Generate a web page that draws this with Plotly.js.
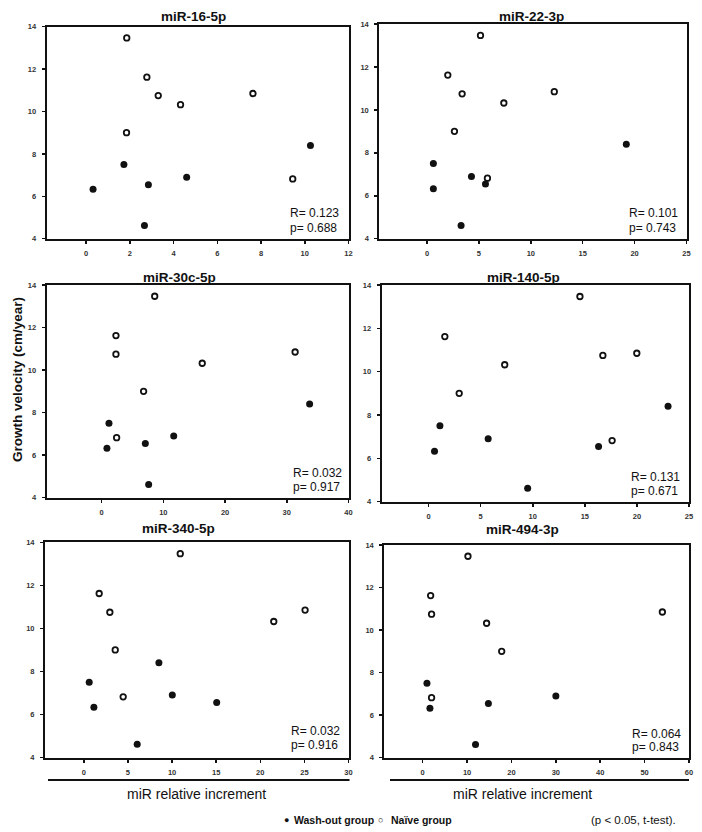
<!DOCTYPE html>
<html><head><meta charset="utf-8">
<script src="https://cdn.plot.ly/plotly-3.0.1.min.js"></script>
<style>html,body{margin:0;padding:0;background:#fff}#chart{width:702px;height:832px}</style>
</head><body><div id="chart"></div>
<script>
// ---------- DATA ----------
const panelTitles = ['miR-16-5p', 'miR-22-3p', 'miR-30c-5p', 'miR-140-5p', 'miR-340-5p', 'miR-494-3p'];
const rValues = ['0.123', '0.101', '0.032', '0.131', '0.032', '0.064'];
const pValues = ['0.688', '0.743', '0.917', '0.671', '0.916', '0.843'];

// Growth velocity (cm/year), same patients in every panel
const naiveGV = [13.47, 11.62, 10.75, 10.32, 10.85, 9.0, 6.82];
const washGV  = [7.5, 6.33, 6.9, 6.55, 4.62, 8.4];

// miR relative increment per panel
const naive16  = [1.86, 2.78, 3.30, 4.32, 7.63, 1.85, 9.45];
const wash16   = [1.73, 0.32, 4.6, 2.85, 2.67, 10.26];
const naive22  = [5.15, 2.0, 3.38, 7.4, 12.26, 2.64, 5.82];
const wash22   = [0.61, 0.61, 4.28, 5.63, 3.28, 19.2];
const naive30c = [8.6, 2.32, 2.32, 16.3, 31.35, 6.8, 2.43];
const wash30c  = [1.19, 0.86, 11.68, 7.08, 7.62, 33.7];
const naive140 = [14.53, 1.56, 16.73, 7.31, 19.99, 2.94, 17.62];
const wash140  = [1.09, 0.57, 5.72, 16.32, 9.51, 22.99];
const naive340 = [10.93, 1.74, 2.95, 21.53, 25.08, 3.56, 4.46];
const wash340  = [0.61, 1.14, 10.03, 15.06, 6.05, 8.51];
const naive494 = [10.2, 1.79, 2.0, 14.4, 54.0, 17.8, 2.0];
const wash494  = [0.96, 1.63, 30.0, 14.8, 11.9, null];

const yRange = [4, 14];
const xRanges = [[-1.8, 12], [-4.6, 25], [-8.9, 40], [-4.5, 25], [-4.4, 30], [-8.65, 60]];
const xDticks = [2, 5, 10, 5, 5, 10];

// ---------- LAYOUT GEOMETRY (pixels) ----------
const W = 702, H = 832;
const fx = p => p / W, fy = p => 1 - p / H;
const geom = [
  {l: 46.7, r: 348.5, t: 26.7, b: 238.7},
  {l: 379.3, r: 686.5, t: 24, b: 238.7},
  {l: 46.7, r: 348.5, t: 285, b: 497.7},
  {l: 381.7, r: 689, t: 285, b: 501.7},
  {l: 45, r: 348.5, t: 542.3, b: 757.5},
  {l: 384.3, r: 689, t: 545, b: 757.7}
];
const titlePos = [[193, 16.5], [531, 16], [180, 277], [523.5, 277], [178, 528.5], [522, 529]];
const statPos = [[288, 213, 228], [627, 213, 228], [290.7, 473.3, 486.7], [629, 477.3, 491], [289.3, 731, 745], [630.3, 734, 746.7]];

const naiveSets = [naive16, naive22, naive30c, naive140, naive340, naive494];
const washSets = [wash16, wash22, wash30c, wash140, wash340, wash494];

const FONT = 'Liberation Sans, Arial, sans-serif';
const traces = [];
const layout = {
  width: W, height: H, margin: {l: 0, r: 0, t: 0, b: 0},
  paper_bgcolor: '#fff', plot_bgcolor: '#fff', showlegend: false,
  font: {family: FONT, color: '#111'},
  annotations: [], shapes: []
};

const axisCommon = {
  showline: true, mirror: true, linewidth: 2, linecolor: '#111',
  ticks: 'outside', ticklen: 3, tickwidth: 1.5, tickcolor: '#111',
  showgrid: false, zeroline: false, fixedrange: true,
  tickfont: {family: FONT, size: 7.5, color: '#333', weight: 'bold'}
};

for (let i = 0; i < 6; i++) {
  const s = i === 0 ? '' : String(i + 1);
  const g = geom[i];
  layout['xaxis' + s] = Object.assign({}, axisCommon, {
    domain: [fx(g.l), fx(g.r)], range: xRanges[i], dtick: xDticks[i], tick0: 0,
    anchor: 'y' + s, ticklabelstandoff: 3
  });
  layout['yaxis' + s] = Object.assign({}, axisCommon, {
    domain: [fy(g.b), fy(g.t)], range: yRange, dtick: 2, tick0: 0,
    anchor: 'x' + s, ticklabelstandoff: 4
  });
  traces.push({
    type: 'scatter', mode: 'markers', name: 'Wash-out group',
    x: washSets[i], y: washGV, xaxis: 'x' + s, yaxis: 'y' + s,
    marker: {size: 7, color: '#111'}
  });
  traces.push({
    type: 'scatter', mode: 'markers', name: 'Naïve group',
    x: naiveSets[i], y: naiveGV, xaxis: 'x' + s, yaxis: 'y' + s,
    marker: {size: 5.5, color: '#fff', line: {color: '#111', width: 1.8}}
  });
  layout.annotations.push({
    text: panelTitles[i], xref: 'paper', yref: 'paper',
    x: fx(titlePos[i][0]), y: fy(titlePos[i][1]), xanchor: 'center', yanchor: 'middle',
    showarrow: false, font: {family: FONT, size: 13.5, color: '#111', weight: 'bold'}
  });
  layout.annotations.push({
    text: 'R= ' + rValues[i], xref: 'paper', yref: 'paper',
    x: fx(statPos[i][0]), y: fy(statPos[i][1]), xanchor: 'left', yanchor: 'middle',
    showarrow: false, font: {family: FONT, size: 12, color: '#111'}
  });
  layout.annotations.push({
    text: 'p= ' + pValues[i], xref: 'paper', yref: 'paper',
    x: fx(statPos[i][0]), y: fy(statPos[i][2]), xanchor: 'left', yanchor: 'middle',
    showarrow: false, font: {family: FONT, size: 12, color: '#111'}
  });
}

// y-axis title
layout.annotations.push({
  text: 'Growth velocity (cm/year)', xref: 'paper', yref: 'paper',
  x: fx(18), y: fy(380), xanchor: 'center', yanchor: 'middle', textangle: -90,
  showarrow: false, font: {family: FONT, size: 13.5, color: '#111', weight: 'bold'}
});
// x-axis titles with lines
[[48, 349.5, 196], [390, 689, 522.5]].forEach(a => {
  layout.shapes.push({type: 'line', xref: 'paper', yref: 'paper',
    x0: fx(a[0]), x1: fx(a[1]), y0: fy(780), y1: fy(780), line: {color: '#111', width: 2}});
  layout.annotations.push({
    text: 'miR relative increment', xref: 'paper', yref: 'paper',
    x: fx(a[2]), y: fy(793.5), xanchor: 'center', yanchor: 'middle',
    showarrow: false, font: {family: FONT, size: 14, color: '#111'}
  });
});
// legend
const legFont = {family: FONT, size: 10.5, color: '#111', weight: 'bold'};
layout.annotations.push({text: '●', xref: 'paper', yref: 'paper', x: fx(286), y: fy(819.5),
  xanchor: 'center', yanchor: 'middle', showarrow: false, font: {family: FONT, size: 9, color: '#111'}});
layout.annotations.push({text: 'Wash-out group', xref: 'paper', yref: 'paper', x: fx(291.5), y: fy(820),
  xanchor: 'left', yanchor: 'middle', showarrow: false, font: legFont});
layout.annotations.push({text: '○', xref: 'paper', yref: 'paper', x: fx(381), y: fy(819.5),
  xanchor: 'center', yanchor: 'middle', showarrow: false, font: {family: FONT, size: 9, color: '#111', weight: 'bold'}});
layout.annotations.push({text: 'Naïve group', xref: 'paper', yref: 'paper', x: fx(389), y: fy(820),
  xanchor: 'left', yanchor: 'middle', showarrow: false, font: legFont});
layout.annotations.push({text: '(p < 0.05, t-test).', xref: 'paper', yref: 'paper', x: fx(633), y: fy(820),
  xanchor: 'center', yanchor: 'middle', showarrow: false, font: {family: FONT, size: 11.5, color: '#111'}});

Plotly.newPlot('chart', traces, layout, {staticPlot: true, displayModeBar: false});
</script>
</body></html>
